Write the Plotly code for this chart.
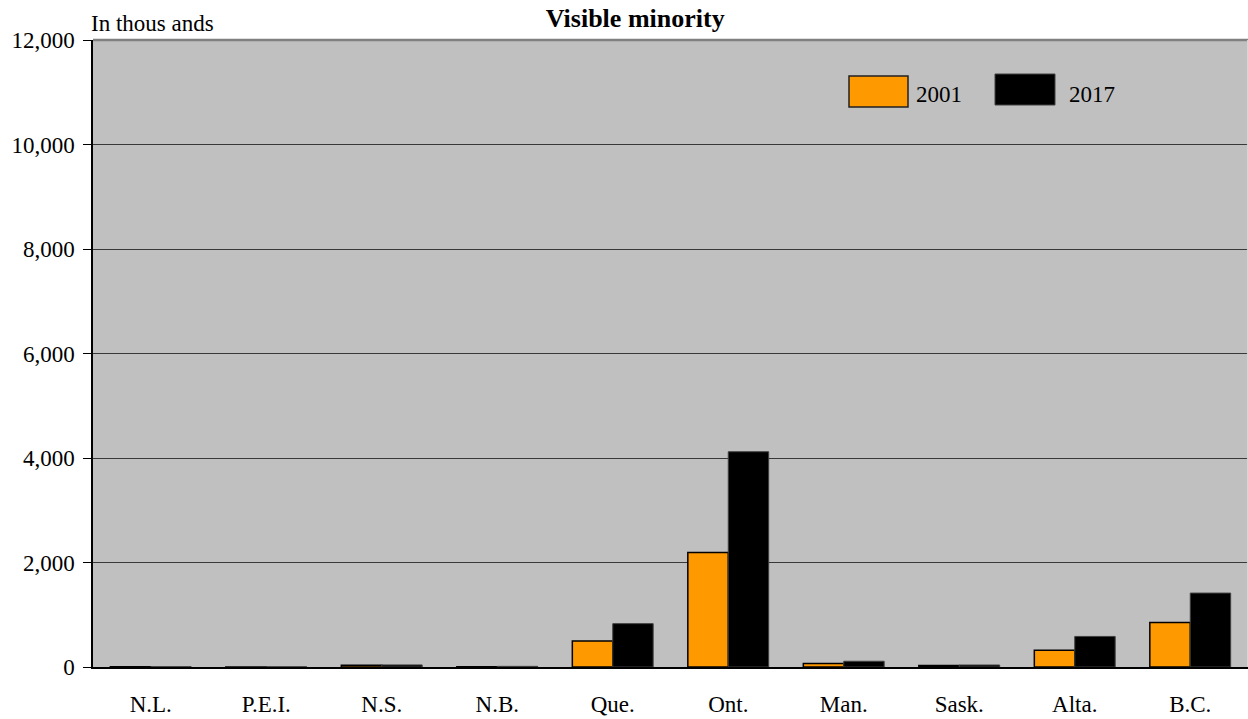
import plotly.graph_objects as go

provinces = ["N.L.", "P.E.I.", "N.S.", "N.B.", "Que.", "Ont.", "Man.", "Sask.", "Alta.", "B.C."]
vm_2001 = [4, 2, 35, 7, 500, 2190, 65, 30, 320, 850]
vm_2017 = [6, 3, 40, 12, 830, 4120, 110, 38, 585, 1415]
y_ticks = [0, 2000, 4000, 6000, 8000, 10000, 12000]
y_tick_text = ["0", "2,000", "4,000", "6,000", "8,000", "10,000", "12,000"]

FONT = "Liberation Serif, Times New Roman, serif"

fig = go.Figure()
fig.add_trace(go.Bar(x=provinces, y=vm_2001, name="2001",
                     marker=dict(color="#FF9900", line=dict(color="#000000", width=1.5))))
fig.add_trace(go.Bar(x=provinces, y=vm_2017, name="2017",
                     marker=dict(color="#000000", line=dict(color="#404040", width=1))))

fig.update_layout(
    width=1248, height=719,
    margin=dict(l=93, r=0, t=40, b=52),
    paper_bgcolor="white", plot_bgcolor="#C0C0C0",
    barmode="group", bargap=0.3, bargroupgap=0,
    showlegend=False,
    font=dict(family=FONT, size=23, color="black"),
    title=dict(text="<b>Visible minority</b>", x=0.509, xanchor="center",
               y=0.975, yanchor="middle", font=dict(family=FONT, size=26, color="black")),
    xaxis=dict(showgrid=False, showline=True, linecolor="black", linewidth=1.5,
               ticks="", tickfont=dict(size=23), ticklabelstandoff=16),
    yaxis=dict(range=[0, 12000], tickvals=y_ticks, ticktext=y_tick_text,
               showgrid=True, gridcolor="#383838", gridwidth=1,
               showline=True, linecolor="black", linewidth=1.5,
               ticks="outside", ticklen=8, tickcolor="black", ticklabelstandoff=4,
               zeroline=False, tickfont=dict(size=23)),
)

# top border line and faint right border
fig.add_shape(type="line", xref="paper", yref="paper", x0=0, x1=1, y0=1, y1=1,
              line=dict(color="#808080", width=2.5))
fig.add_shape(type="line", xref="paper", yref="paper", x0=0.9995, x1=0.9995, y0=0, y1=1,
              line=dict(color="#D8D8D8", width=1))

# "In thousands" label
fig.add_annotation(text="In thous ands", xref="paper", yref="paper", x=0, y=1,
                   xanchor="left", yanchor="bottom", yshift=2, xshift=-4, showarrow=False,
                   font=dict(family=FONT, size=23, color="black"))

# custom legend
fig.add_shape(type="rect", xref="paper", yref="paper",
              x0=(849 - 93) / 1155, x1=(908 - 93) / 1155,
              y0=(667 - 107) / 627, y1=(667 - 76) / 627,
              fillcolor="#FF9900", line=dict(color="#202020", width=1.5))
fig.add_annotation(text="2001", xref="paper", yref="paper", x=(914 - 93) / 1155,
                   y=(667 - 94) / 627, xanchor="left", yanchor="middle", showarrow=False,
                   font=dict(family=FONT, size=23, color="black"))
fig.add_shape(type="rect", xref="paper", yref="paper",
              x0=(995 - 93) / 1155, x1=(1055 - 93) / 1155,
              y0=(667 - 105) / 627, y1=(667 - 74) / 627,
              fillcolor="#000000", line=dict(color="#404040", width=1))
fig.add_annotation(text="2017", xref="paper", yref="paper", x=(1067 - 93) / 1155,
                   y=(667 - 94) / 627, xanchor="left", yanchor="middle", showarrow=False,
                   font=dict(family=FONT, size=23, color="black"))

fig.write_html("out.html", config={"displayModeBar": False},
               post_script="document.body.style.margin='0px';document.body.style.overflow='hidden';")
